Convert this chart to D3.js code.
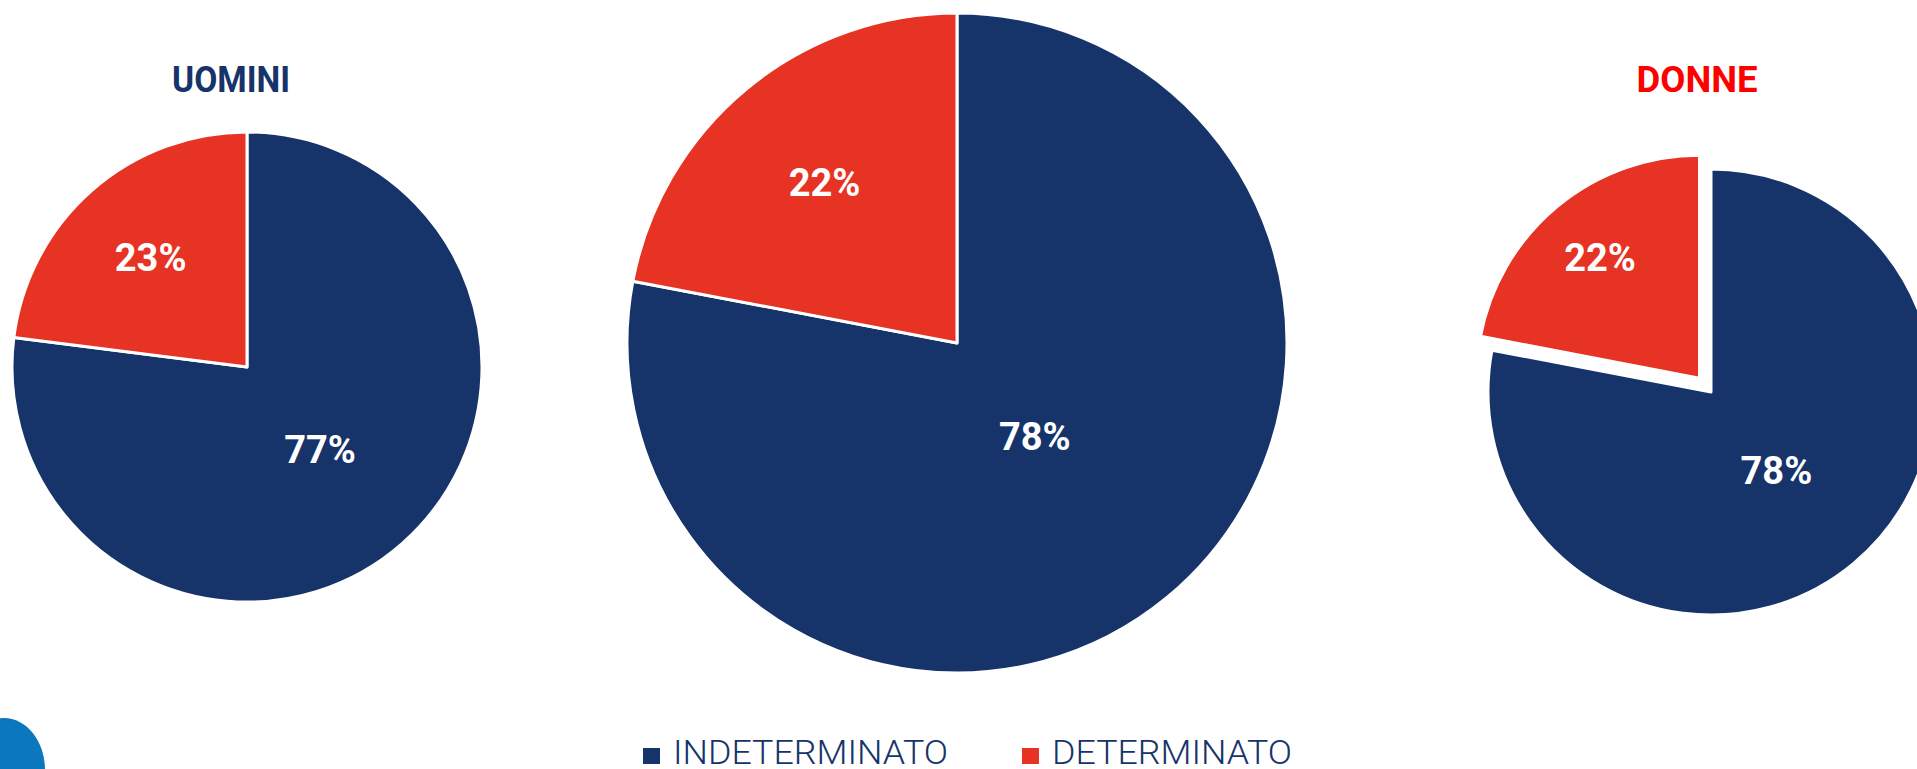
<!DOCTYPE html>
<html>
<head>
<meta charset="utf-8">
<script src="https://cdn.jsdelivr.net/npm/d3@7"></script>
<style>
  html, body { margin: 0; padding: 0; background: #ffffff; overflow: hidden; }
  svg { display: block; }
</style>
</head>
<body>
<svg id="chart" width="1917" height="769"></svg>
<script>
// ---- Data ----
const categories = ["INDETERMINATO", "DETERMINATO"];
const titles = ["UOMINI", "", "DONNE"];
const uomini = [77, 23];
const totale = [78, 22];
const donne = [78, 22];
const seriesList = [uomini, totale, donne];

// ---- Styles / layout ----
const NAVY = "#16336a";
const RED = "#e63323";
const colors = d3.scaleOrdinal().domain(categories).range([NAVY, RED]);
const titleColors = [NAVY, NAVY, "#ff0000"];
const layout = [
  { cx: 247, cy: 367, r: 235, explode: [0, 0], k: [0.47, 0.62] },
  { cx: 957, cy: 343, r: 330, explode: [0, 0], k: [0.37, 0.63] },
  { cx: 1711, cy: 392, r: 223, explode: [0, 18], k: [0.46, 0.70] }
];

const svg = d3.select("#chart");

// decorative blue blob bottom-left
svg.append("ellipse")
  .attr("cx", 4).attr("cy", 770).attr("rx", 41).attr("ry", 52)
  .attr("fill", "#0a77bf");

const pie = d3.pie().sort(null).value(d => d).startAngle(0).endAngle(2 * Math.PI);

seriesList.forEach((vals, i) => {
  const L = layout[i];
  const arc = d3.arc().innerRadius(0).outerRadius(L.r);
  const g = svg.append("g").attr("transform", `translate(${L.cx},${L.cy})`);
  const arcs = pie(vals);

  arcs.forEach((a, j) => {
    const mid = (a.startAngle + a.endAngle) / 2;
    const off = L.explode[j];
    const ox = Math.sin(mid) * off, oy = -Math.cos(mid) * off;
    const sg = g.append("g").attr("transform", `translate(${ox},${oy})`);
    sg.append("path")
      .attr("d", arc(a))
      .attr("fill", colors(categories[j]))
      .attr("stroke", "#ffffff")
      .attr("stroke-width", 3)
      .attr("stroke-linejoin", "round");
    const kr = L.k[j] * L.r;
    sg.append("text")
      .attr("x", Math.sin(mid) * kr)
      .attr("y", -Math.cos(mid) * kr)
      .attr("text-anchor", "middle")
      .attr("dominant-baseline", "central")
      .attr("fill", "#ffffff")
      .attr("font-family", "Roboto, 'Open Sans', sans-serif")
      .attr("font-weight", 700)
      .attr("font-size", 38)
      .text(a.data + "%");
  });

  if (titles[i]) {
    svg.append("text")
      .attr("x", i === 0 ? 231 : 1697)
      .attr("y", 92)
      .attr("text-anchor", "middle")
      .attr("fill", titleColors[i])
      .attr("font-family", "Roboto, 'Open Sans', sans-serif")
      .attr("font-weight", 700)
      .attr("font-size", 37)
      .attr("textLength", i === 0 ? 118 : 121)
      .attr("lengthAdjust", "spacingAndGlyphs")
      .text(titles[i]);
  }
});

// ---- Legend ----
const legendPos = [{ sq: 643, tx: 673, w: 275 }, { sq: 1022, tx: 1052, w: 240 }];
categories.forEach((c, j) => {
  const p = legendPos[j];
  svg.append("rect")
    .attr("x", p.sq).attr("y", 748).attr("width", 17).attr("height", 16)
    .attr("fill", colors(c));
  svg.append("text")
    .attr("x", p.tx).attr("y", 764)
    .attr("fill", NAVY)
    .attr("font-family", "Roboto, 'DejaVu Sans', sans-serif")
    .attr("font-weight", 300)
    .attr("font-size", 34)
    .attr("textLength", p.w)
    .attr("lengthAdjust", "spacingAndGlyphs")
    .text(c);
});
</script>
</body>
</html>
